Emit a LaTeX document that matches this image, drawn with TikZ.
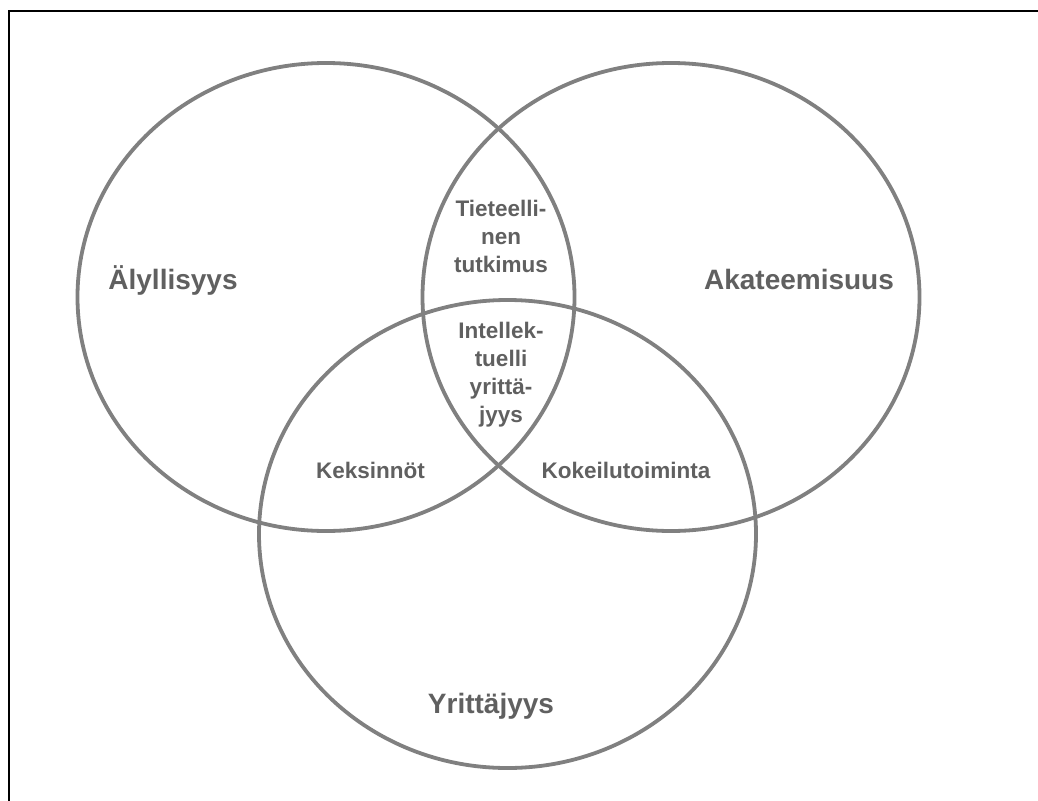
\documentclass[tikz,border=0pt]{standalone}
\usepackage{fontspec}
\setmainfont{Liberation Sans}
\usetikzlibrary{shapes.geometric}
\definecolor{ringgray}{HTML}{808080}
\definecolor{textgray}{HTML}{606060}
\begin{document}
\begin{tikzpicture}[x=1pt,y=-1pt,
  ring/.style={ellipse, draw=ringgray, line width=3.8pt, minimum width=497pt, minimum height=468pt, inner sep=0pt, outer sep=0pt},
  biglabel/.style={anchor=base, inner sep=0pt, text=textgray, font=\bfseries\fontsize{28}{34}\selectfont},
  smalllabel/.style={anchor=base, inner sep=0pt, text=textgray, align=center, font=\bfseries\fontsize{22.5}{28}\selectfont}]
\useasboundingbox (0,0) rectangle (1038,800);
\fill[white] (0,0) rectangle (1038,800);
\coordinate (fl) at (9,800);
\coordinate (fc) at (9,11);
\coordinate (fr) at (1038,11);
\draw[line width=2pt, line cap=rect] (fl) -- (fc) -- (fr);
\node[ring] (left) at (326,297) {};
\node[ring] (right) at (671,297) {};
\node[ring] (bottom) at (507.5,534) {};
\node[biglabel] (aly) at (173,289) {Älyllisyys};
\node[biglabel] (aka) at (799,289) {Akateemisuus};
\node[biglabel] (yri) at (491,713) {Yrittäjyys};
\node[smalllabel] (tie) at (501,272) {Tieteelli-\\nen\\tutkimus};
\node[smalllabel] (int) at (501,422) {Intellek-\\tuelli\\yrittä-\\jyys};
\node[smalllabel] (kek) at (370.5,478) {Keksinnöt};
\node[smalllabel] (kok) at (626,478) {Kokeilutoiminta};
\end{tikzpicture}
\end{document}
